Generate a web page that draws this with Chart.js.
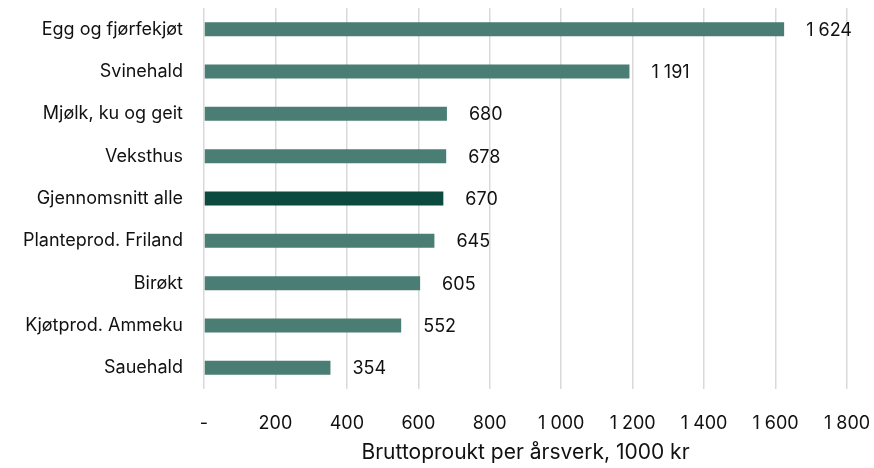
<!DOCTYPE html>
<html><head><meta charset="utf-8">
<script src="https://cdn.jsdelivr.net/npm/chart.js@4/dist/chart.umd.min.js"></script>
<style>html,body{margin:0;padding:0;background:#fff}#wrap{width:874px;height:468px}</style>
</head><body><div id="wrap"><canvas id="c" width="874" height="468"></canvas></div>
<script>
const categories = ["Egg og fjørfekjøt","Svinehald","Mjølk, ku og geit","Veksthus","Gjennomsnitt alle","Planteprod. Friland","Birøkt","Kjøtprod. Ammeku","Sauehald"];
const values = [1624,1191,680,678,670,645,605,552,354];
const highlight = "Gjennomsnitt alle";
const xTicks = [0,200,400,600,800,1000,1200,1400,1600,1800];
const axisTitle = "Bruttoproukt per årsverk, 1000 kr";

const FONT = "Inter, 'Noto Sans', sans-serif";
function fmt(v){ if(v===0) return "-"; return String(v).replace(/\B(?=(\d{3})+(?!\d))/g, " "); }

const labelPlugin = {
  id:'vlabels',
  afterDatasetsDraw(chart){
    const ctx = chart.ctx;
    const meta = chart.getDatasetMeta(0);
    ctx.save();
    ctx.font = "18px " + FONT;
    ctx.fillStyle = "#111";
    ctx.textAlign = "left";
    ctx.textBaseline = "middle";
    meta.data.forEach((bar,i)=>{
      ctx.fillText(fmt(values[i]), bar.x + 22, bar.y + 1);
    });
    ctx.restore();
  }
};

new Chart(document.getElementById('c'), {
  type:'bar',
  data:{ labels:categories, datasets:[{ data:values,
    backgroundColor: categories.map(c=> c===highlight ? "#0c4a3f" : "#4a7d74"),
    barPercentage:0.33, categoryPercentage:1 }]},
  options:{
    indexAxis:'y', responsive:false, animation:false,
    layout:{padding:{top:8,right:27,left:0,bottom:0}},
    plugins:{legend:{display:false}, tooltip:{enabled:false}},
    scales:{
      x:{ min:0, max:1800,
        afterBuildTicks(s){ s.ticks = xTicks.map(v=>({value:v})); },
        grid:{color:"#d9d9d9", lineWidth:1.5, drawTicks:false},
        border:{display:false},
        ticks:{ padding:24, color:"#111", font:{family:FONT,size:18}, callback:(v)=>fmt(v) },
        title:{display:true, text:axisTitle, color:"#111", font:{family:FONT,size:21}, padding:{top:4,bottom:3}},
        afterFit(s){ s.height = 79; s.paddingLeft = 0; s.paddingRight = 0; }
      },
      y:{ grid:{display:false, drawTicks:false}, border:{display:false},
        ticks:{ padding:21, color:"#111", font:{family:FONT,size:18} },
        afterFit(s){ s.width = 204; s.paddingTop = 0; s.paddingBottom = 0; }
      }
    }
  },
  plugins:[labelPlugin]
});
</script></body></html>
